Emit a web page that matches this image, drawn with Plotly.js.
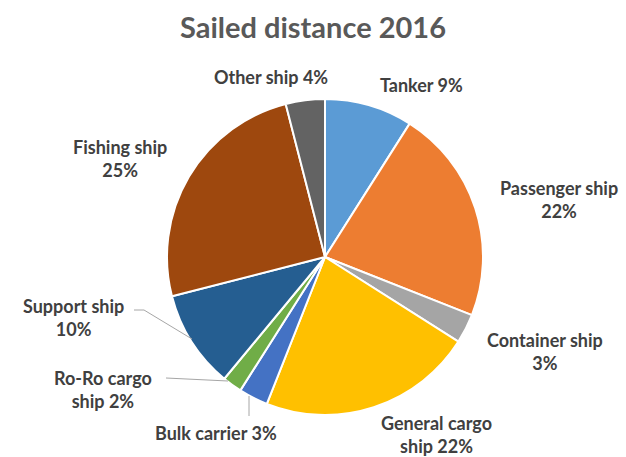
<!DOCTYPE html>
<html><head><meta charset="utf-8">
<script src="https://cdn.plot.ly/plotly-3.0.1.min.js"></script>
<style>html,body{margin:0;padding:0;background:#fff}#chart{width:626px;height:457px}</style>
</head><body><div id="chart"></div>
<script>
// ---- data ----
const categories = ["Tanker","Passenger ship","Container ship","General cargo ship","Bulk carrier","Ro-Ro cargo ship","Support ship","Fishing ship","Other ship"];
const shares = [9, 22, 3, 22, 3, 2, 10, 25, 4];
const dataLabels = ["Tanker 9%","Passenger ship<br>22%","Container ship<br>3%","General cargo<br>ship 22%","Bulk carrier 3%","Ro-Ro cargo<br>ship 2%","Support ship<br>10%","Fishing ship<br>25%","Other ship 4%"];

// ---- style / layout ----
const W = 626, H = 457;
const colors = ["#5B9BD5","#ED7D31","#A5A5A5","#FFC000","#4472C4","#70AD47","#255E91","#9E480E","#636363"];
const cx = 325, cy = 257, R = 158;
// label centers in pixels
const labelPos = [[421,85],[559,199],[545,351],[436,434],[216,433],[103,389],[73,317],[120,158],[271,77]];
const px = x => x / W, py = y => 1 - y / H;

const annotations = dataLabels.map((t, i) => ({
  text: t, xref: "paper", yref: "paper", x: px(labelPos[i][0]), y: py(labelPos[i][1]),
  xanchor: "center", yanchor: "middle", showarrow: false, align: "center",
  font: {family: "Lato, 'Open Sans', sans-serif", size: 18, color: "#404040", weight: "bold"}
}));

function leaderPath(pts){
  return {type:"path", xref:"paper", yref:"paper",
    path: pts.map((p,k)=>(k?"L":"M")+px(p[0])+","+py(p[1])).join(" "),
    line:{color:"#A6A6A6", width:1}};
}
const shapes = [
  leaderPath([[134,310],[144,310],[192,339]]),
  leaderPath([[166,378],[228,381]]),
  leaderPath([[249,396],[249,416]])
];

const trace = {
  type: "pie", labels: categories, values: shares, sort: false,
  direction: "clockwise", rotation: 0, textinfo: "none", hoverinfo: "label+percent",
  marker: {colors: colors, line: {color: "#FFFFFF", width: 2}},
  domain: {x: [px(cx - R), px(cx + R)], y: [py(cy + R), py(cy - R)]},
  showlegend: false
};

const layout = {
  width: W, height: H, margin: {l:0, r:0, t:0, b:0},
  paper_bgcolor: "#FFFFFF", plot_bgcolor: "#FFFFFF",
  title: {text: "Sailed distance 2016", x: 0.5, xanchor: "center", y: 1 - 28/H, yanchor: "middle",
    font: {family: "Lato, 'Open Sans', sans-serif", size: 29, color: "#595959", weight: "bold"}},
  annotations: annotations, shapes: shapes, showlegend: false
};
Plotly.newPlot("chart", [trace], layout, {displayModeBar: false, staticPlot: true});
</script></body></html>
